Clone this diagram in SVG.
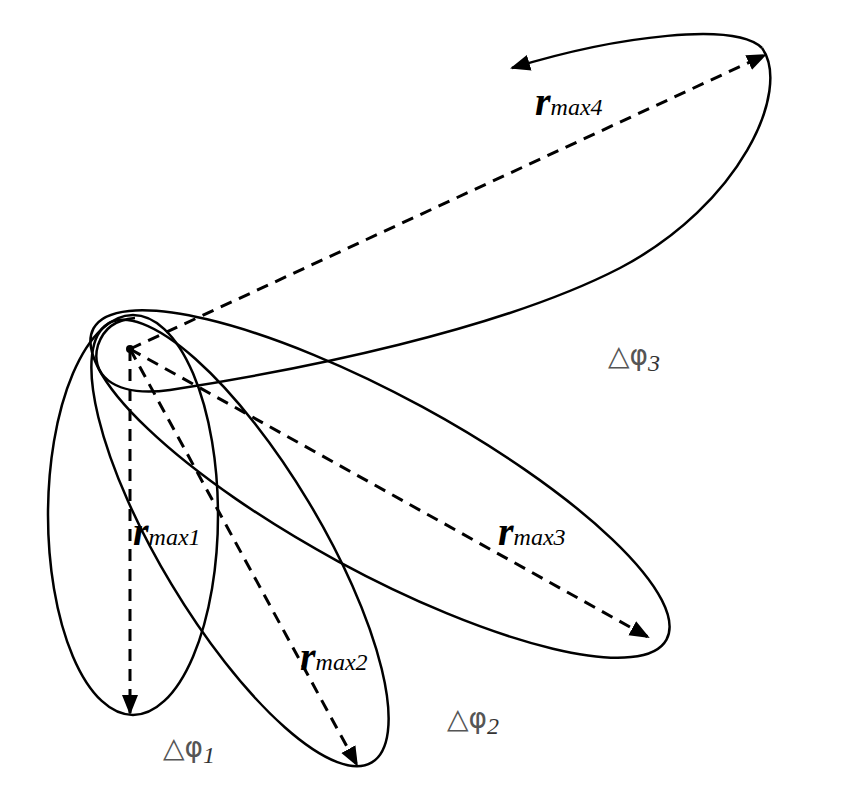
<svg xmlns="http://www.w3.org/2000/svg" width="842" height="800" viewBox="0 0 842 800">
<defs>
<marker id="ahb" viewBox="0 0 10 10" refX="9" refY="5" markerWidth="20" markerHeight="20" markerUnits="userSpaceOnUse" orient="auto"><path d="M0,1 L10,5 L0,9 z" fill="#000"/></marker>
</defs>
<style>
.e{fill:none;stroke:#000;stroke-width:2.5}
.d{fill:none;stroke:#000;stroke-width:3;stroke-dasharray:12 8}
.r{font-family:"Liberation Serif",serif;font-style:italic;font-weight:bold;font-size:40px}
.s{font-family:"Liberation Serif",serif;font-style:italic;font-size:24px;font-weight:normal}
.p{font-family:"DejaVu Sans",sans-serif;font-size:28px;fill:#555}
.ps{font-family:"Liberation Serif",serif;font-style:italic;font-size:24px;fill:#333}
</style>
<rect width="842" height="800" fill="#fff"/>
<g id="ellipse1"><ellipse class="e" cx="133" cy="515" rx="85" ry="200"/></g>
<g id="ellipse2"><ellipse class="e" cx="240" cy="543" rx="256" ry="80" transform="rotate(59 240 543)"/></g>
<g id="ellipse3"><ellipse class="e" cx="380" cy="484" rx="326" ry="88" transform="rotate(28.5 380 484)"/></g>
<g id="ellipse4"><path class="e" d="M762,48 C792,90 740,205 620,268 C500,330 300,370 170,390 C110,398 90,372 98,345 C104,328 115,320 135,318"/>
<path class="e" d="M762,48 C735,22 620,35 512,68" marker-end="url(#ahb)"/></g>
<g id="connectors">
<path class="d" d="M130,349 L130,713" marker-end="url(#ahb)"/>
<path class="d" d="M130,349 L357,765" marker-end="url(#ahb)"/>
<path class="d" d="M130,349 L648,637" marker-end="url(#ahb)"/>
<path class="d" d="M130,349 L765,55" marker-end="url(#ahb)"/>
</g>
<circle cx="130" cy="349" r="4" fill="#000"/>
<g id="labels">
<text class="r" x="133" y="545">r<tspan class="s">max1</tspan></text>
<text class="r" x="300" y="670">r<tspan class="s">max2</tspan></text>
<text class="r" x="498" y="545">r<tspan class="s">max3</tspan></text>
<text class="r" x="535" y="115">r<tspan class="s">max4</tspan></text>
<text class="p" x="163" y="757">△φ<tspan class="ps" dy="6">1</tspan></text>
<text class="p" x="447" y="728">△φ<tspan class="ps" dy="6">2</tspan></text>
<text class="p" x="608" y="365">△φ<tspan class="ps" dy="6">3</tspan></text>
</g>
</svg>
